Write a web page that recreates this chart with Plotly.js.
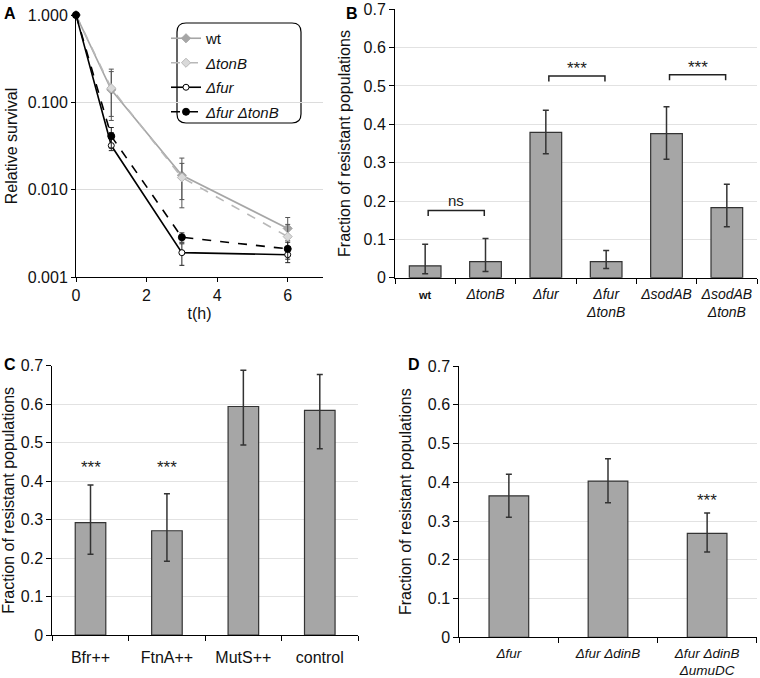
<!DOCTYPE html>
<html>
<head>
<meta charset="utf-8">
<script src="https://cdn.plot.ly/plotly-3.0.1.min.js"></script>
<style>html,body{margin:0;padding:0;background:#fff;}#chart{width:760px;height:678px;}</style>
</head>
<body>
<div id="chart"></div>
<script>
// ---------- Panel A data ----------
var timeH = [0, 1, 3, 6];
var survWt = [1, 0.139, 0.0146, 0.0036];
var survWtUp = [1.08, 0.24, 0.023, 0.0048];
var survWtLo = [1, 0.069, 0.0077, 0.0026];
var survTonB = [1, 0.145, 0.0138, 0.0029];
var survTonBUp = [1, 0.225, 0.020, 0.0040];
var survTonBLo = [1, 0.062, 0.0062, 0.0022];
var survFur = [1, 0.032, 0.0019, 0.0018];
var survFurUp = [1, 0.045, 0.0024, 0.0022];
var survFurLo = [1, 0.028, 0.00136, 0.00146];
var survFurTonB = [1, 0.041, 0.00285, 0.0021];
var survFurTonBUp = [1, 0.0515, 0.0032, 0.0025];
var survFurTonBLo = [1, 0.030, 0.0025, 0.0016];
var survTickVals = [1, 0.1, 0.01, 0.001];
var survTickText = ['1.000', '0.100', '0.010', '0.001'];

// ---------- Panel B data ----------
var catB = ['<span style="font-size:11px"><b>wt</b></span>', '<i>ΔtonB</i>', '<i>Δfur</i>', '<i>Δfur</i><br><i>ΔtonB</i>', '<i>ΔsodAB</i>', '<i>ΔsodAB</i><br><i>ΔtonB</i>'];
var fracB = [0.031, 0.042, 0.379, 0.042, 0.376, 0.183];
var fracBUp = [0.087, 0.102, 0.437, 0.071, 0.446, 0.244];
var fracBLo = [0.010, 0.016, 0.323, 0.024, 0.309, 0.133];
var sigBFrom = [0, 2, 4];
var sigBTo = [1, 3, 5];
var sigBLevel = [0.175, 0.526, 0.529];
var sigBText = ['ns', '***', '***'];

// ---------- Panel C data ----------
var catC = ['Bfr++', 'FtnA++', 'MutS++', 'control'];
var fracC = [0.292, 0.271, 0.594, 0.584];
var fracCUp = [0.390, 0.367, 0.688, 0.677];
var fracCLo = [0.210, 0.192, 0.494, 0.484];
var sigCText = ['***', '***', '', ''];
var sigCLevel = [0.444, 0.444, 0, 0];

// ---------- Panel D data ----------
var catD = ['<i>Δfur</i>', '<i>Δfur ΔdinB</i>', '<i>Δfur ΔdinB</i><br><i>ΔumuDC</i>'];
var fracD = [0.365, 0.403, 0.268];
var fracDUp = [0.421, 0.461, 0.321];
var fracDLo = [0.310, 0.347, 0.220];
var sigDText = ['', '', '***'];
var sigDLevel = [0, 0, 0.360];

var FONT = 'Arial, "Liberation Sans", sans-serif';
var W = 760, H = 678;
function px(x){ return x / W; }
function py(y){ return 1 - y / H; }
function diff(a, b){ return a.map(function(v, i){ return Math.max(0, v - b[i]); }); }

function lineTrace(name, y, up, lo, lineColor, dash, symbol, mfill, mline, msize, ecolor){
  return {
    type: 'scatter', mode: 'lines+markers', name: name, legendgroup: name,
    x: timeH, y: y, xaxis: 'x', yaxis: 'y', cliponaxis: false,
    line: {color: lineColor, width: 1.6, dash: dash},
    marker: {symbol: symbol, size: msize, color: mfill, line: {color: mline, width: 1}},
    error_y: {type: 'data', symmetric: false, array: diff(up, y), arrayminus: diff(y, lo), color: ecolor, thickness: 1, width: 2.5}
  };
}

var traces = [
  lineTrace('wt', survWt, survWtUp, survWtLo, '#a6a6a6', 'solid', 'diamond', '#a6a6a6', '#a6a6a6', 7, '#555'),
  lineTrace('<i>ΔtonB</i>', survTonB, survTonBUp, survTonBLo, '#b8b8b8', 'dash', 'diamond', '#d9d9d9', '#b8b8b8', 7, '#555'),
  lineTrace('<i>Δfur</i>', survFur, survFurUp, survFurLo, '#000', 'solid', 'circle', '#fff', '#000', 6, '#222'),
  lineTrace('<i>Δfur ΔtonB</i>', survFurTonB, survFurTonBUp, survFurTonBLo, '#000', 'dash', 'circle', '#000', '#000', 7, '#222')
];

function barTrace(cats, vals, up, lo, xa, ya, w){
  return {
    type: 'bar', x: cats, y: vals, xaxis: xa, yaxis: ya, showlegend: false, width: w,
    marker: {color: '#a6a6a6', line: {color: '#333', width: 1.2}},
    error_y: {type: 'data', symmetric: false, array: diff(up, vals), arrayminus: diff(vals, lo), color: '#333', thickness: 1.5, width: 3}
  };
}
traces.push(barTrace(catB, fracB, fracBUp, fracBLo, 'x2', 'y2', 0.525));
traces.push(barTrace(catC, fracC, fracCUp, fracCLo, 'x3', 'y3', 0.4));
traces.push(barTrace(catD, fracD, fracDUp, fracDLo, 'x4', 'y4', 0.4));

var shapes = [];
var annotations = [];

// rounded legend frame
(function(){
  var x0 = px(177), x1 = px(301), y0 = py(123), y1 = py(23);
  var rx = px(9), ry = 9 / H;
  var p = 'M ' + (x0 + rx) + ' ' + y1 +
    ' L ' + (x1 - rx) + ' ' + y1 + ' Q ' + x1 + ' ' + y1 + ' ' + x1 + ' ' + (y1 - ry) +
    ' L ' + x1 + ' ' + (y0 + ry) + ' Q ' + x1 + ' ' + y0 + ' ' + (x1 - rx) + ' ' + y0 +
    ' L ' + (x0 + rx) + ' ' + y0 + ' Q ' + x0 + ' ' + y0 + ' ' + x0 + ' ' + (y0 + ry) +
    ' L ' + x0 + ' ' + (y1 - ry) + ' Q ' + x0 + ' ' + y1 + ' ' + (x0 + rx) + ' ' + y1 + ' Z';
  shapes.push({type: 'path', xref: 'paper', yref: 'paper', path: p, line: {color: '#000', width: 1.2}, layer: 'below'});
})();

// significance brackets in B
for (var i = 0; i < sigBFrom.length; i++){
  var a = sigBFrom[i] + 0.05, b = sigBTo[i] - 0.02, yv = sigBLevel[i], drop = 0.014;
  shapes.push({type: 'path', xref: 'x2', yref: 'y2',
    path: 'M ' + a + ' ' + (yv - drop) + ' L ' + a + ' ' + yv + ' L ' + b + ' ' + yv + ' L ' + b + ' ' + (yv - drop),
    line: {color: '#222', width: 1.5}});
  var isNs = sigBText[i] === 'ns';
  annotations.push({xref: 'x2', yref: 'y2', x: (a + b) / 2, y: yv + (isNs ? 0.027 : 0.02), text: sigBText[i], showarrow: false,
    font: {family: FONT, size: isNs ? 15 : 17, color: '#222'}, yanchor: 'middle'});
}
function sigMarks(cats, texts, levels, xa, ya){
  for (var j = 0; j < cats.length; j++){
    if (!texts[j]) continue;
    annotations.push({xref: xa, yref: ya, x: j, y: levels[j] - 0.008, text: texts[j], showarrow: false,
      font: {family: FONT, size: 17, color: '#222'}, yanchor: 'middle'});
  }
}
sigMarks(catC, sigCText, sigCLevel, 'x3', 'y3');
sigMarks(catD, sigDText, sigDLevel, 'x4', 'y4');

// panel letters
var letters = [['A', 10, 14], ['B', 352, 14], ['C', 10, 364], ['D', 414, 364]];
letters.forEach(function(l){
  annotations.push({xref: 'paper', yref: 'paper', x: px(l[1]), y: py(l[2]), text: '<b>' + l[0] + '</b>',
    showarrow: false, xanchor: 'center', yanchor: 'middle', font: {family: FONT, size: 16, color: '#000'}});
});

function fracYAxis(domain, standoff){
  return {domain: domain, range: [0, 0.7], dtick: 0.1, tick0: 0, showline: true, linecolor: '#000', linewidth: 1,
    ticks: 'outside', ticklen: 5, tickcolor: '#000', showgrid: true, gridcolor: '#e2e2e2', zeroline: false,
    tickfont: {family: FONT, size: 16, color: '#111'}, automargin: false,
    title: {text: 'Fraction of resistant populations', font: {family: FONT, size: 16, color: '#111'}, standoff: standoff}};
}
function catXAxis(domain, anchor, size, standoff){
  return {domain: domain, anchor: anchor, type: 'category', showline: true, linecolor: '#000', linewidth: 1,
    ticks: 'outside', tickson: 'boundaries', ticklen: 5, tickcolor: '#000', showgrid: false, zeroline: false,
    ticklabelstandoff: standoff, tickangle: 0,
    tickfont: {family: FONT, size: size, color: '#111'}, automargin: false, fixedrange: true};
}

var layout = {
  width: W, height: H, margin: {l: 0, r: 0, t: 0, b: 0}, paper_bgcolor: '#fff', plot_bgcolor: '#fff',
  font: {family: FONT, color: '#111'}, showlegend: true,
  legend: {x: px(166), y: py(22), xanchor: 'left', yanchor: 'top', bgcolor: 'rgba(0,0,0,0)', borderwidth: 0,
    font: {family: FONT, size: 15, color: '#111'}, traceorder: 'grouped', tracegroupgap: 2},
  xaxis: {domain: [px(76), px(323)], anchor: 'y', range: [0, 7], tickvals: [0, 2, 4, 6], showline: true, linecolor: '#000',
    ticks: 'outside', ticklen: 4, tickcolor: '#000', showgrid: false, zeroline: false, automargin: false,
    tickfont: {family: FONT, size: 16, color: '#111'},
    title: {text: 't(h)', font: {family: FONT, size: 16, color: '#111'}, standoff: 4}},
  yaxis: {domain: [py(277), py(15)], anchor: 'x', type: 'log', range: [-3, 0], tickvals: survTickVals, ticktext: survTickText,
    showline: true, linecolor: '#000', ticks: 'outside', ticklen: 4, tickcolor: '#000', showgrid: true, gridcolor: '#dcdcdc',
    zeroline: false, automargin: false, tickfont: {family: FONT, size: 16, color: '#111'},
    title: {text: 'Relative survival', font: {family: FONT, size: 16, color: '#111'}, standoff: 6}},
  xaxis2: catXAxis([px(395), px(757)], 'y2', 14, 3),
  yaxis2: fracYAxis([py(277.7), py(9.3)], 8),
  xaxis3: catXAxis([px(52.3), px(358)], 'y3', 16, 8),
  yaxis3: fracYAxis([py(635), py(365.7)], 8),
  xaxis4: catXAxis([px(459.3), px(756.7)], 'y4', 13.5, 3),
  yaxis4: fracYAxis([py(637.3), py(366)], 12),
  shapes: shapes, annotations: annotations
};
layout.yaxis2.anchor = 'x2';
layout.yaxis3.anchor = 'x3';
layout.yaxis4.anchor = 'x4';

Plotly.newPlot('chart', traces, layout, {displayModeBar: false, staticPlot: true});
</script>
</body>
</html>
